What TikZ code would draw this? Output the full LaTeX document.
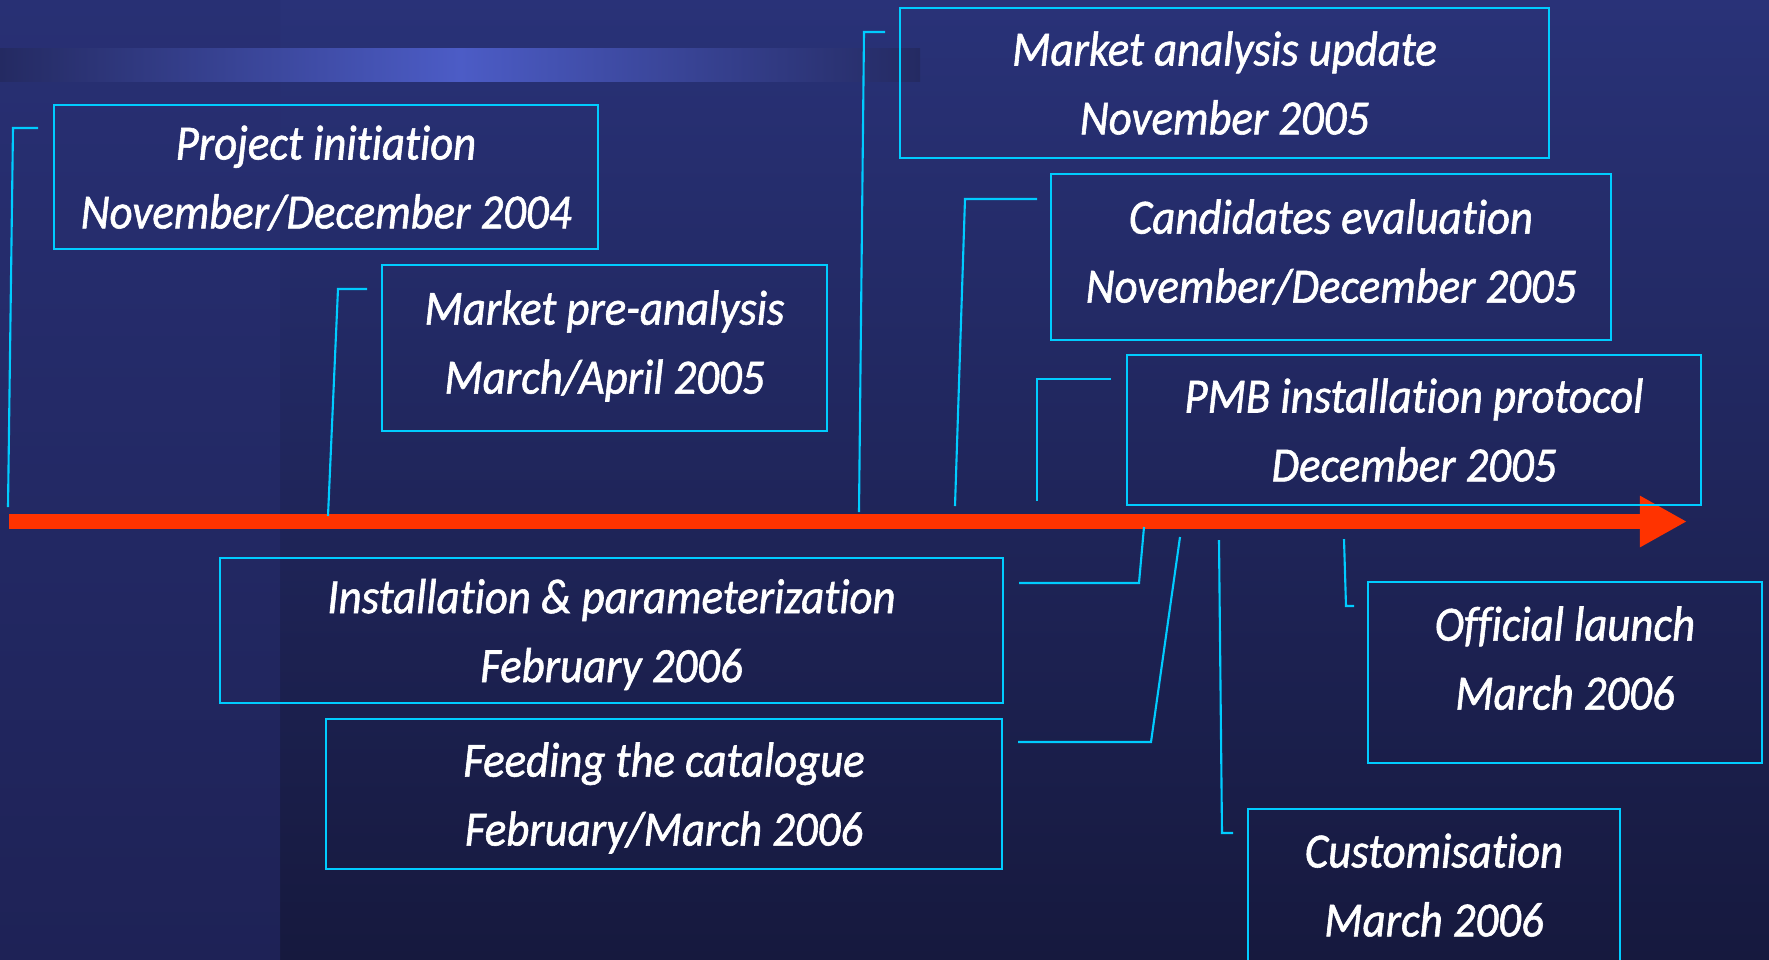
\documentclass[tikz,border=0pt]{standalone}
\usepackage{fontspec}
\setmainfont{Carlito}[FakeStretch=0.91, FakeBold=1.2, Ligatures=NoCommon]
\usepackage{tikz}
\usetikzlibrary{arrows.meta}

\definecolor{bgtop}{RGB}{41,50,120}
\definecolor{bgbot}{RGB}{22,25,62}
\definecolor{paneltop}{RGB}{40,48,116}
\definecolor{panelbot}{RGB}{30,34,86}
\definecolor{barside}{RGB}{36,42,98}
\definecolor{barmid}{RGB}{76,92,198}
\definecolor{cyanline}{RGB}{0,204,255}
\definecolor{arrowred}{RGB}{255,51,0}

\begin{document}
\begin{tikzpicture}[x=0.01cm, y=-0.01cm,
        stage/.style={draw=cyanline, line width=0.6pt, text=white, align=center, inner sep=0pt,
            font=\fontsize{14}{19.6}\selectfont\itshape},
        link/.style={draw=cyanline, line width=0.6pt},
        timeline/.style={draw=arrowred, line width=0.15cm, -{Triangle[length=0.47cm, width=0.48cm]}}]
        \useasboundingbox (0,0) rectangle (1769,959);
        \clip (0,0) rectangle (1769,959);
        % background
        \shade[top color=bgtop, bottom color=bgbot] (0,0) rectangle (1769,959);
        \shade[top color=paneltop, bottom color=panelbot] (0,0) rectangle (280,959);
        \shade[left color=barside, right color=barside, middle color=barmid] (0,48) rectangle (920,81);
        % time axis
        \coordinate (tl-start) at (9,521.5);
        \coordinate (tl-end) at (1687,521.5);
        \draw[timeline] (tl-start) -- (tl-end);
        % leader lines
        \foreach \n/\ax/\ay/\bx/\by/\cx in {init/8/507/13/128/38, pre/328/516/338/289/367,
                update/859/512/864/32/885, cand/955/506/965/199/1037, pmb/1037/501/1037/379/1111,
                inst/1144/527/1139/583/1019, feed/1180/537/1151/742/1018,
                cust/1219/540/1222/833/1233, launch/1344/539/1346/606/1354}
            {\coordinate (\n-foot) at (\ax,\ay);
             \coordinate (\n-knee) at (\bx,\by);
             \coordinate (\n-end) at (\cx,\by);
             \draw[link] (\n-foot) -- (\n-knee) -- (\n-end);}
        % milestones
        \node[stage, minimum width=5.44cm, minimum height=1.44cm, text depth=0cm] (init) at (326,177) {Project initiation\\November/December 2004};
        \node[stage, minimum width=4.45cm, minimum height=1.66cm, text depth=0.12cm] (pre) at (604.5,348) {Market pre-analysis\\March/April 2005};
        \node[stage, minimum width=6.49cm, minimum height=1.50cm] (update) at (1224.5,83) {Market analysis update\\November 2005};
        \node[stage, minimum width=5.60cm, minimum height=1.66cm, text depth=0.12cm] (cand) at (1331,257) {Candidates evaluation\\November/December 2005};
        \node[stage, minimum width=5.74cm, minimum height=1.50cm] (pmb) at (1414,430) {PMB installation protocol\\December 2005};
        \node[stage, minimum width=7.83cm, minimum height=1.45cm, text depth=0cm] (inst) at (611.5,630.5) {Installation \& parameterization\\February 2006};
        \node[stage, minimum width=6.76cm, minimum height=1.50cm, text depth=0cm] (feed) at (664,794) {Feeding the catalogue\\February/March 2006};
        \node[stage, minimum width=3.94cm, minimum height=1.81cm, text depth=0.29cm] (launch) at (1565,672.5) {Official launch\\March 2006};
        \node[stage, minimum width=3.72cm, minimum height=1.81cm, text depth=0.29cm] (cust) at (1434,899.5) {Customisation\\March 2006};
    \end{tikzpicture}
\end{document}
